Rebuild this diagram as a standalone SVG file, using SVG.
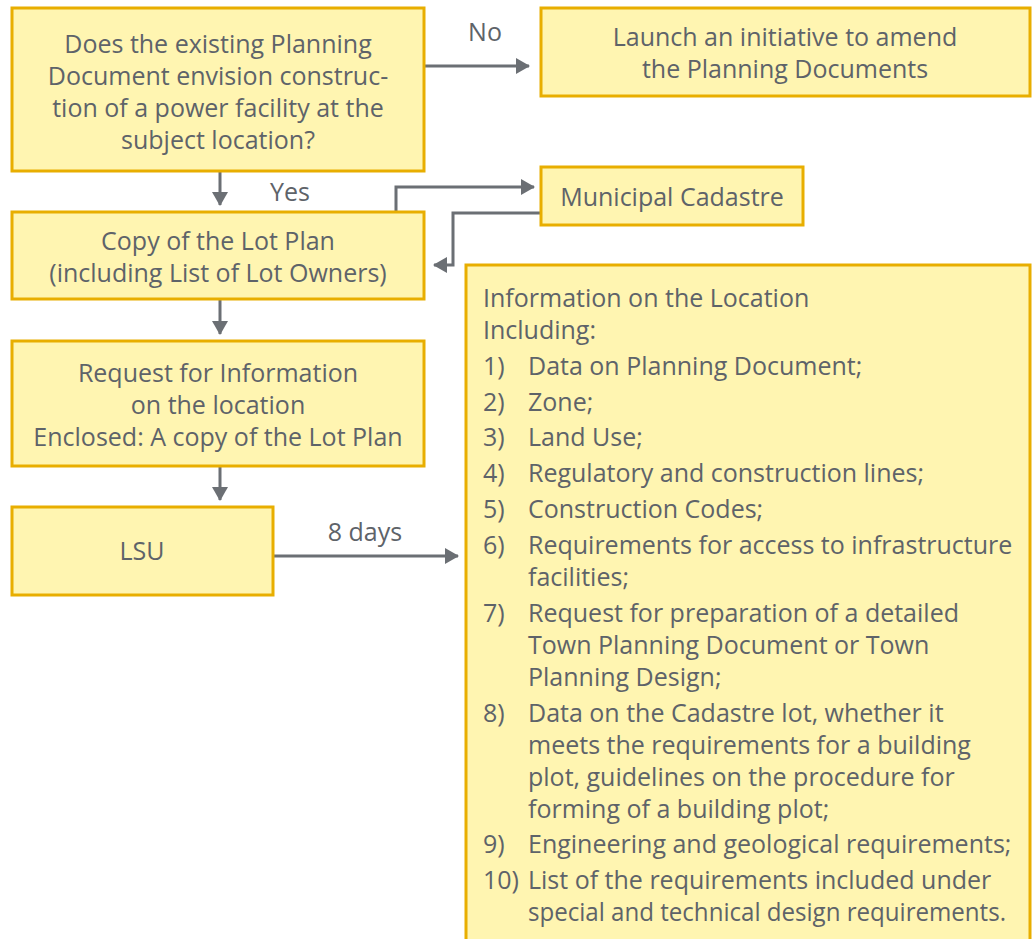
<svg xmlns="http://www.w3.org/2000/svg" width="1035" height="939" viewBox="0 0 1035 939">
  <style>
    .box { fill: #FFF5B1; stroke: #E8AE00; stroke-width: 3; }
    .t { font-family: "Open Sans", Lato, "Liberation Sans", sans-serif; font-size: 25px; fill: #5E6369; }
    .c { text-anchor: middle; }
    .edge { fill: none; stroke: #6B6F74; stroke-width: 3; }
  </style>
  <defs>
    <marker id="arrow" viewBox="0 0 14 16" refX="13" refY="8" markerWidth="14" markerHeight="16" markerUnits="userSpaceOnUse" orient="auto">
      <path d="M0,0 L14,8 L0,16 Z" fill="#6B6F74"/>
    </marker>
  </defs>

  <!-- connectors -->
  <g id="connectors">
    <path class="edge" d="M424,66 H529" marker-end="url(#arrow)"/>
    <path class="edge" d="M220,171 V205" marker-end="url(#arrow)"/>
    <path class="edge" d="M396,212 V187 H534" marker-end="url(#arrow)"/>
    <path class="edge" d="M541,213 H453 V265 H434" marker-end="url(#arrow)"/>
    <path class="edge" d="M220,299 V334" marker-end="url(#arrow)"/>
    <path class="edge" d="M220,466 V500" marker-end="url(#arrow)"/>
    <path class="edge" d="M273,556 H458" marker-end="url(#arrow)"/>
    <text class="t c" x="485" y="41">No</text>
    <text class="t c" x="290" y="201">Yes</text>
    <text class="t c" x="365" y="541">8 days</text>
  </g>

  <!-- decision -->
  <g id="question">
    <rect class="box" x="12" y="8" width="412" height="163"/>
    <text class="t c" x="218" y="53">Does the existing Planning</text>
    <text class="t c" x="218" y="85">Document envision construc-</text>
    <text class="t c" x="218" y="117">tion of a power facility at the</text>
    <text class="t c" x="218" y="149">subject location?</text>
  </g>

  <g id="amend">
    <rect class="box" x="541" y="8" width="489" height="88"/>
    <text class="t c" x="785" y="46">Launch an initiative to amend</text>
    <text class="t c" x="785" y="78">the Planning Documents</text>
  </g>

  <g id="cadastre">
    <rect class="box" x="541" y="167" width="262" height="58"/>
    <text class="t c" x="672" y="206">Municipal Cadastre</text>
  </g>

  <g id="lot-plan">
    <rect class="box" x="12" y="212" width="412" height="87"/>
    <text class="t c" x="218" y="250">Copy of the Lot Plan</text>
    <text class="t c" x="218" y="282">(including List of Lot Owners)</text>
  </g>

  <g id="request">
    <rect class="box" x="12" y="341" width="412" height="125"/>
    <text class="t c" x="218" y="382">Request for Information</text>
    <text class="t c" x="218" y="414">on the location</text>
    <text class="t c" x="218" y="446">Enclosed: A copy of the Lot Plan</text>
  </g>

  <g id="lsu">
    <rect class="box" x="12" y="507" width="261" height="88"/>
    <text class="t c" x="142" y="560">LSU</text>
  </g>

  <g id="location-info">
    <rect class="box" x="466" y="265" width="564" height="680"/>
    <text class="t" x="483" y="307">Information on the Location</text>
    <text class="t" x="483" y="339">Including:</text>
    <g class="t">
      <text x="483" y="375">1)</text><text x="528" y="375">Data on Planning Document;</text>
      <text x="483" y="411">2)</text><text x="528" y="411">Zone;</text>
      <text x="483" y="446">3)</text><text x="528" y="446">Land Use;</text>
      <text x="483" y="482">4)</text><text x="528" y="482">Regulatory and construction lines;</text>
      <text x="483" y="518">5)</text><text x="528" y="518">Construction Codes;</text>
      <text x="483" y="554">6)</text><text x="528" y="554">Requirements for access to infrastructure</text>
      <text x="528" y="586">facilities;</text>
      <text x="483" y="622">7)</text><text x="528" y="622">Request for preparation of a detailed</text>
      <text x="528" y="654">Town Planning Document or Town</text>
      <text x="528" y="686">Planning Design;</text>
      <text x="483" y="722">8)</text><text x="528" y="722">Data on the Cadastre lot, whether it</text>
      <text x="528" y="754">meets the requirements for a building</text>
      <text x="528" y="786">plot, guidelines on the procedure for</text>
      <text x="528" y="818">forming of a building plot;</text>
      <text x="483" y="853">9)</text><text x="528" y="853">Engineering and geological requirements;</text>
      <text x="483" y="889">10)</text><text x="528" y="889">List of the requirements included under</text>
      <text x="528" y="921" textLength="478" lengthAdjust="spacingAndGlyphs">special and technical design requirements.</text>
    </g>
  </g>
</svg>
